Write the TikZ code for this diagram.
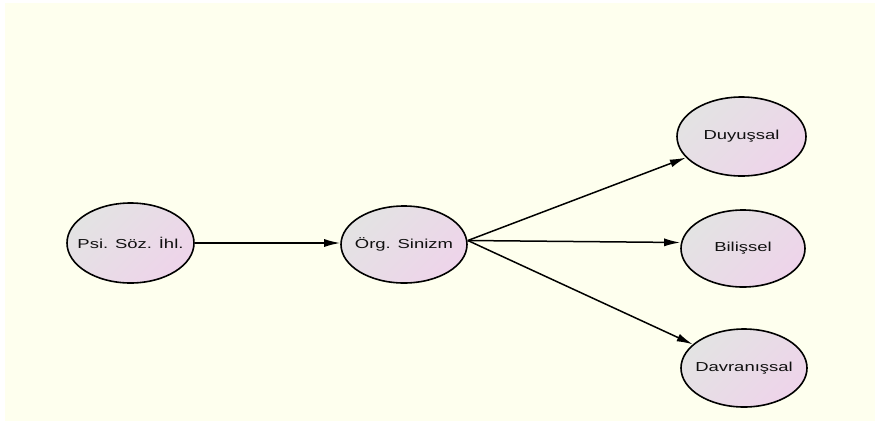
\documentclass[tikz,border=0pt]{standalone}
\usepackage{fontspec}
\setmainfont{Liberation Sans}
\usetikzlibrary{shapes.geometric,arrows.meta}
\definecolor{bgyellow}{HTML}{FEFFEE}
\definecolor{nodegray}{HTML}{E3E3E3}
\definecolor{nodepink}{HTML}{EED4EA}
\definecolor{txt}{HTML}{101010}
\newcommand{\wlabel}[1]{\makebox[0pt]{\scalebox{1.42}[1]{\fontsize{13pt}{15pt}\selectfont #1}}}
\tikzset{
  ell/.style={ellipse, draw=black, line width=1.6pt, inner sep=0pt,
    top color=nodegray, bottom color=nodepink, shading angle=45,
    text=txt},
  conn/.style={line width=1.5pt, -{Latex[length=16pt,width=8pt]}}
}
\begin{document}
\begin{tikzpicture}[x=1pt,y=-1pt]
\useasboundingbox (0,0) rectangle (875,421);
\fill[bgyellow] (5,3) rectangle (875,421);
\node[ell, minimum width=127pt, minimum height=80pt] (psi) at (130.5,243) {\wlabel{Psi. Söz. İhl.}};
\node[ell, minimum width=126pt, minimum height=77pt] (org) at (404,244.5) {\wlabel{Örg. Sinizm}};
\node[ell, minimum width=129pt, minimum height=79pt] (duy) at (741.5,136.5) {\wlabel{Duyuşsal}};
\node[ell, minimum width=124pt, minimum height=77pt] (bil) at (743,248.5) {\wlabel{Bilişsel}};
\node[ell, minimum width=126pt, minimum height=78pt] (dav) at (744,368) {\wlabel{Davranışsal}};
\draw[conn] (psi.east) -- (org.west |- psi.east);
\draw[conn] ([yshift=4pt]org.east) -- (duy);
\draw[conn] ([yshift=4pt]org.east) -- ([yshift=6pt]bil.west);
\draw[conn] ([yshift=4pt]org.east) -- (dav);
\end{tikzpicture}
\end{document}
